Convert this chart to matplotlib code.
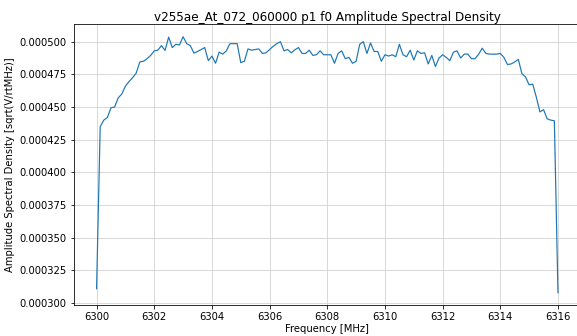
import numpy as np
import matplotlib
matplotlib.use('Agg')
import matplotlib.pyplot as plt
from matplotlib.ticker import FormatStrFormatter, ScalarFormatter

# frequency channels, 0.125 MHz apart
freq_start = 6300.0
freq_step = 0.125

# amplitude spectral density, one value per channel
asd = [
    0.000311, 0.000435, 0.000440, 0.000442, 0.0004495, 0.000450, 0.000457, 0.000460,
    0.000466, 0.0004695, 0.0004725, 0.000476, 0.0004845, 0.000485, 0.000487, 0.0004895,
    0.000493, 0.0004935, 0.000497, 0.0004933, 0.0005035, 0.0004955, 0.000498, 0.0004975,
    0.0005038, 0.0004985, 0.000497, 0.0004913, 0.0004925, 0.000494, 0.0004955, 0.0004855,
    0.000489, 0.0004835, 0.000492, 0.0004905, 0.000493, 0.0004985, 0.0004985, 0.0004985,
    0.000484, 0.000485, 0.0004945, 0.0004935, 0.000494, 0.0004945, 0.000491, 0.0004915,
    0.000494, 0.0004965, 0.0004985, 0.000500, 0.000493, 0.000494, 0.0004915, 0.0004938,
    0.0004955, 0.000491, 0.000491, 0.0004935, 0.0004895, 0.000490, 0.000493, 0.000490,
    0.000490, 0.000490, 0.0004835, 0.000491, 0.000493, 0.000487, 0.000488, 0.0004835,
    0.000485, 0.000498, 0.000500, 0.000491, 0.000499, 0.0004925, 0.0004925, 0.000485,
    0.000490, 0.000489, 0.000490, 0.0004885, 0.000498, 0.000490, 0.0004885, 0.0004935,
    0.000486, 0.000493, 0.000491, 0.0004915, 0.000483, 0.0004895, 0.000481, 0.0004875,
    0.000490, 0.000488, 0.0004855, 0.000492, 0.000493, 0.0004875, 0.0004905, 0.0004905,
    0.000487, 0.000487, 0.0004905, 0.000495, 0.000491, 0.0004905, 0.0004905, 0.0004905,
    0.000491, 0.000488, 0.0004825, 0.000483, 0.0004845, 0.0004865, 0.0004755, 0.000473,
    0.000467, 0.0004675, 0.0004575, 0.0004463, 0.000448, 0.000441, 0.000440, 0.0004395,
    0.000308,
]

freqs = freq_start + freq_step * np.arange(len(asd))

# 72 dpi so the default point sizes come out as in the picture
fig = plt.figure(figsize=(577 / 72, 336 / 72), dpi=72)
ax = fig.add_axes([0.1274, 0.0908, 0.8796, 0.838])

ax.plot(freqs, asd, color='#1f77b4', linewidth=1.2)

ax.set_title('v255ae_At_072_060000 p1 f0 Amplitude Spectral Density', pad=3)
ax.set_xlabel('Frequency [MHz]', labelpad=2)
ax.set_ylabel('Amplitude Spectral Density [sqrt(V/rtMHz)]')

ax.set_xticks(np.arange(6300, 6317, 2))
ax.xaxis.set_major_formatter(ScalarFormatter(useOffset=False))
ax.yaxis.set_major_formatter(FormatStrFormatter('%.6f'))
ax.grid(True, color='#d0d0d0', linewidth=0.8)

fig.savefig('out.png', dpi=72)
